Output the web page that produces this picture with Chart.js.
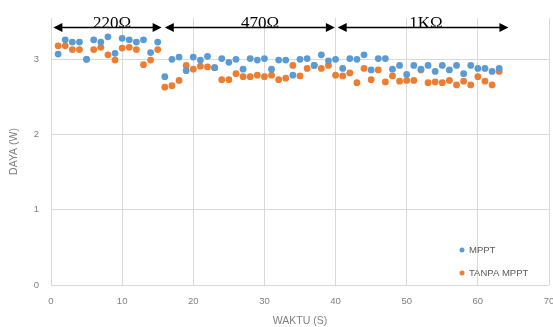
<!DOCTYPE html>
<html>
<head>
<meta charset="utf-8">
<script src="https://cdn.jsdelivr.net/npm/chart.js@4/dist/chart.umd.min.js"></script>
<style>
  html, body { margin: 0; padding: 0; background: #fff; }
</style>
</head>
<body>
<canvas id="chart" width="553" height="327"></canvas>
<script>
const seconds = [1, 2, 3, 4, 5, 6, 7, 8, 9, 10, 11, 12, 13, 14, 15, 16, 17, 18, 19, 20,
  21, 22, 23, 24, 25, 26, 27, 28, 29, 30, 31, 32, 33, 34, 35, 36, 37, 38, 39, 40,
  41, 42, 43, 44, 45, 46, 47, 48, 49, 50, 51, 52, 53, 54, 55, 56, 57, 58, 59, 60,
  61, 62, 63];

const mpptPower = [3.07, 3.26, 3.23, 3.23, 3.00, 3.26, 3.23, 3.30, 3.08, 3.28,
  3.26, 3.23, 3.26, 3.09, 3.23, 2.77, 3.00, 3.03, 2.85, 3.03,
  2.99, 3.04, 2.89, 3.01, 2.96, 3.00, 2.87, 3.01, 2.99, 3.01,
  2.87, 2.99, 2.99, 2.79, 3.00, 3.01, 2.92, 3.06, 2.98, 3.00,
  2.88, 3.01, 3.00, 3.06, 2.86, 3.01, 3.01, 2.87, 2.92, 2.80,
  2.92, 2.87, 2.92, 2.84, 2.92, 2.86, 2.92, 2.81, 2.92, 2.88,
  2.88, 2.84, 2.88];

const tanpaPower = [3.18, 3.18, 3.13, 3.13, 3.00, 3.13, 3.16, 3.06, 2.99, 3.15,
  3.16, 3.13, 2.93, 2.99, 3.13, 2.63, 2.65, 2.72, 2.92, 2.87,
  2.91, 2.90, 2.89, 2.73, 2.73, 2.81, 2.77, 2.77, 2.79, 2.77,
  2.79, 2.73, 2.75, 2.92, 2.78, 2.88, 2.92, 2.88, 2.92, 2.79,
  2.78, 2.82, 2.69, 2.88, 2.73, 2.86, 2.70, 2.78, 2.71, 2.72,
  2.72, 2.86, 2.69, 2.70, 2.69, 2.72, 2.66, 2.71, 2.66, 2.77,
  2.71, 2.66, 2.84];

const seriesNames = ['MPPT', 'TANPA MPPT'];

// load ranges above the points: [arrow start, arrow end, label, label centre]
const loadSpans = [
  [0.33, 15.55, '220\u03A9', 8.6],
  [16.0, 39.9, '470\u03A9', 29.4],
  [40.3, 64.3, '1K\u03A9', 52.7]
];
const spanLevel = 3.43;

const BLUE = '#5B9BD5';
const ORANGE = '#ED7D31';
const GREY = '#7F7F7F';

function arrowHead(ctx, x, y, dir) {
  ctx.beginPath();
  ctx.moveTo(x, y);
  ctx.lineTo(x - dir * 9, y - 4.5);
  ctx.lineTo(x - dir * 9, y + 4.5);
  ctx.closePath();
  ctx.fill();
}

const spanPlugin = {
  id: 'spans',
  afterDraw(chart) {
    const ctx = chart.ctx;
    const xs = chart.scales.x, ys = chart.scales.y;
    const y = Math.round(ys.getPixelForValue(spanLevel)) + 0.5;
    ctx.save();
    ctx.strokeStyle = '#000';
    ctx.fillStyle = '#000';
    ctx.lineWidth = 1.6;
    loadSpans.forEach(function(s) {
      const x1 = xs.getPixelForValue(s[0]);
      const x2 = xs.getPixelForValue(s[1]);
      ctx.beginPath();
      ctx.moveTo(x1 + 4, y);
      ctx.lineTo(x2 - 4, y);
      ctx.stroke();
      arrowHead(ctx, x1, y, -1);
      arrowHead(ctx, x2, y, 1);
      ctx.font = '17px "Liberation Serif"';
      ctx.textAlign = 'center';
      ctx.textBaseline = 'alphabetic';
      ctx.fillText(s[2], xs.getPixelForValue(s[3]), y);
    });

    // legend inside the plot, bottom right
    const colors = [BLUE, ORANGE];
    ctx.font = '9.5px "Liberation Sans"';
    ctx.textAlign = 'left';
    ctx.textBaseline = 'middle';
    seriesNames.forEach(function(name, i) {
      const ly = 250 + i * 23;
      ctx.fillStyle = colors[i];
      ctx.beginPath();
      ctx.arc(462, ly, 2.5, 0, Math.PI * 2);
      ctx.fill();
      ctx.fillStyle = '#595959';
      ctx.fillText(name, 469, ly);
    });
    ctx.restore();
  }
};

const CHART = new Chart(document.getElementById('chart'), {
  type: 'scatter',
  data: {
    datasets: [
      {
        label: seriesNames[0],
        data: seconds.map((s, i) => ({ x: s, y: mpptPower[i] })),
        backgroundColor: BLUE,
        borderColor: BLUE,
        pointRadius: 3.4,
        borderWidth: 0
      },
      {
        label: seriesNames[1],
        data: seconds.map((s, i) => ({ x: s, y: tanpaPower[i] })),
        backgroundColor: ORANGE,
        borderColor: ORANGE,
        pointRadius: 3.4,
        borderWidth: 0
      }
    ]
  },
  options: {
    responsive: false,
    animation: false,
    layout: { padding: { top: 18, right: 4, left: 0, bottom: 0 } },
    plugins: {
      legend: { display: false },
      tooltip: { enabled: false }
    },
    scales: {
      x: {
        min: 0,
        max: 70,
        ticks: { stepSize: 10, color: GREY, font: { family: 'Liberation Sans', size: 9.5 }, maxRotation: 0, padding: 11 },
        grid: { color: '#D9D9D9', drawTicks: false },
        border: { display: false },
        title: { display: true, text: 'WAKTU (S)', color: GREY, font: { family: 'Liberation Sans', size: 10.5 }, padding: { top: 6, bottom: 0 } },
        afterFit(scale) {
          scale.height = 42;
          scale.paddingLeft = 0;
          scale.paddingRight = 0;
        }
      },
      y: {
        min: 0,
        max: 3.55,
        afterBuildTicks(axis) {
          axis.ticks = axis.ticks.filter(t => Number.isInteger(t.value));
        },
        ticks: { stepSize: 1, color: GREY, font: { family: 'Liberation Sans', size: 9.5 }, padding: 12 },
        grid: { color: '#D9D9D9', drawTicks: false },
        border: { display: false },
        title: { display: true, text: 'DAYA (W)', color: GREY, font: { family: 'Liberation Sans', size: 10.5 }, padding: { top: 8, bottom: 4 } },
        afterFit(scale) {
          scale.width = 51;
          scale.paddingTop = 0;
          scale.paddingBottom = 0;
        }
      }
    }
  },
  plugins: [spanPlugin]
});
</script>
</body>
</html>
